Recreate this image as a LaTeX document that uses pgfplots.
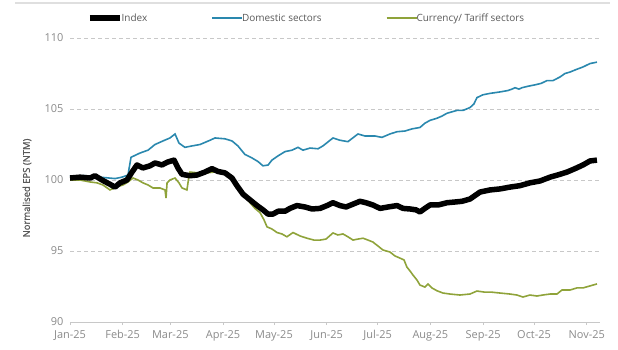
\documentclass[border=0pt]{standalone}
\usepackage{pgfplots}
\pgfplotsset{compat=1.18}
\usepackage{fontspec}
\setmainfont{Open Sans}
\newfontfamily\semib{Open Sans}[FakeBold=1.2]
\definecolor{domblue}{HTML}{2A88AE}
\definecolor{curgreen}{HTML}{8FA33A}
\definecolor{txtgray}{HTML}{595959}
\definecolor{tickgray}{HTML}{8A8A8A}
\definecolor{gridgray}{HTML}{C8C8C8}
\begin{document}
\begin{tikzpicture}
\useasboundingbox (0,0) rectangle (618bp,350bp);
\draw[line width=2bp, color=gray!25] (15bp,347bp) -- (610bp,347bp);
\begin{axis}[
  at={(70bp,28bp)}, anchor=south west,
  scale only axis, width=530bp, height=284bp,
  xmin=0, xmax=311.8, ymin=90, ymax=110,
  axis x line*=bottom, axis y line*=left,
  x axis line style={color=gridgray, line width=0.8bp},
  y axis line style={draw=none},
  xtick={0,31,59,90,120,151,181,212,243,273,304},
  xticklabels={Jan-25,Feb-25,Mar-25,Apr-25,May-25,Jun-25,Jul-25,Aug-25,Sep-25,Oct-25,Nov-25},
  xtick style={color=gridgray, line width=0.8bp},
  ytick style={draw=none},
  x tick label style={yshift=-2bp},
  tick align=outside, major tick length=3bp,
  ytick={90,95,100,105,110},
  ymajorgrids, grid style={color=gridgray, line width=0.8bp, dash pattern=on 4bp off 3bp},
  every tick label/.append style={font=\fontsize{11}{13}\selectfont, color=tickgray},
  /pgf/number format/assume math mode=true,
  clip=false,
  legend columns=3,
  legend style={draw=none, fill=none, at={(axis description cs:0.032,1.07)}, anchor=west,
    font=\fontsize{10}{12}\selectfont, text=txtgray, inner sep=0pt,
    /tikz/every even column/.append style={column sep=62bp}},
  legend image code/.code={\draw[#1] (0bp,0bp) -- (30bp,0bp);},
  legend cell align=left,
]
\addlegendimage{black, line width=5.5bp}
\addlegendentry{\hspace{-3bp}Index}
\addlegendimage{domblue, line width=1.8bp}
\addlegendentry{\hspace{-3bp}Domestic sectors}
\addlegendimage{curgreen, line width=1.8bp}
\addlegendentry{\hspace{-3bp}Currency/ Tariff sectors}

% Domestic sectors
\addplot[domblue, line width=1.6bp, forget plot] coordinates {
(0,100.28)(8.8,100.3)(17.6,100.2)(26.5,100.1)(30.6,100.2)(34.1,100.35)(35.9,101.6)
(41.2,101.9)(45.9,102.1)(50,102.5)(54.7,102.75)(58.8,102.96)(61.8,103.24)(64.1,102.6)
(67.6,102.3)(71.8,102.4)(76.5,102.5)(82.4,102.8)(85.3,102.96)(91.2,102.9)(95.3,102.75)
(98.8,102.4)(102.9,101.8)(107.1,101.55)(110.6,101.3)(113.5,101.0)(116.5,101.05)(118.8,101.4)
(122.4,101.7)(126.5,102.0)(130.6,102.1)(134.1,102.3)(137.1,102.1)(141.2,102.25)(145.9,102.2)
(148.8,102.4)(154.7,102.96)(158.8,102.8)(163.5,102.7)(169.4,103.24)(173.5,103.1)(179.4,103.1)
(183.5,103.0)(188.2,103.24)(192.4,103.4)(197.1,103.45)(201.2,103.6)(205.9,103.7)(208.8,104.0)
(211.8,104.2)(215.9,104.35)(218.8,104.5)(221.8,104.7)(227.6,104.9)(231.2,104.9)(235.3,105.1)
(237.6,105.35)(239.4,105.8)(242.9,106.0)(247.1,106.1)(252.9,106.2)(257.6,106.3)(260,106.4)
(261.8,106.5)(264.1,106.4)(265.9,106.5)(269.4,106.6)(273.5,106.7)(277.1,106.8)(280.6,107.0)
(284.1,107.0)(288.2,107.25)(291.2,107.5)(294.1,107.6)(298.2,107.8)(301.8,107.96)(305.9,108.2)
(310,108.3)
};

% Currency / Tariff sectors
\addplot[curgreen, line width=1.6bp, forget plot] coordinates {
(0,100.0)(5.9,100.0)(11.8,99.86)(15.9,99.8)(19.4,99.65)(23.5,99.3)(27.1,99.5)(31.2,99.65)
(34.1,99.86)(37.1,100.14)(40,100.0)(42.9,99.8)(45.9,99.65)(48.8,99.44)(52.9,99.44)(55.9,99.3)
(56.5,98.73)(57.1,99.8)(58.8,100.0)(61.8,100.14)(64.1,99.8)(65.9,99.44)(68.8,99.3)(70,100.28)
(70.6,100.56)(75.3,100.5)(80.6,100.5)(84.7,100.56)(88.2,100.56)(92.4,100.35)(95.9,100.0)
(100,99.3)(102.9,98.87)(105.9,98.4)(108.8,98.0)(111.8,97.7)(114.1,97.2)(115.9,96.7)
(118.8,96.55)(121.8,96.3)(124.7,96.2)(127.6,96.0)(131.2,96.3)(135.3,96.06)(139.4,95.9)
(143.5,95.77)(147.1,95.77)(150.6,95.84)(154.7,96.27)(157.6,96.13)(160.6,96.2)(163.5,96.0)
(166.5,95.77)(169.4,95.84)(172.4,95.9)(175.3,95.77)(178.2,95.63)(181.2,95.35)(184.1,95.07)
(188.2,94.93)(191.2,94.65)(194.1,94.5)(196.5,94.37)(198.2,93.87)(200,93.6)(201.8,93.3)
(204.1,92.96)(205.9,92.6)(208.8,92.46)(210.6,92.68)(212.9,92.4)(215.9,92.2)(219.4,92.04)
(223.5,91.97)(229.4,91.9)(235.3,91.97)(239.4,92.18)(244.1,92.1)(248.2,92.1)(252.9,92.04)
(258.8,91.97)(262.9,91.9)(266.5,91.76)(270.6,91.9)(274.7,91.83)(278.2,91.9)(282.4,91.97)
(286.5,91.97)(289.4,92.25)(294.1,92.25)(298.2,92.4)(301.8,92.4)(305.9,92.54)(310,92.68)
};

% Index
\addplot[black, line width=5.5bp, line join=round, forget plot] coordinates {
(0,100.14)(5.9,100.2)(11.8,100.14)(14.7,100.3)(18.8,100.0)(23.5,99.7)(26.5,99.5)(29.4,99.8)
(33.5,100.0)(36.5,100.56)(39.4,101.06)(42.9,100.85)(47.1,101.0)(50,101.2)(54.1,101.06)
(57.6,101.27)(61.2,101.4)(63.5,100.85)(65.9,100.4)(70.6,100.3)(74.7,100.35)(79.4,100.56)
(83.5,100.8)(87.1,100.6)(91.2,100.5)(95.3,100.14)(98.2,99.6)(101.8,99.0)(105.9,98.6)
(110,98.2)(113.5,97.9)(116.5,97.6)(119.4,97.6)(122.4,97.8)(126.5,97.8)(129.4,98.0)
(133.5,98.2)(138.2,98.1)(142.4,97.96)(147.1,98.0)(151.2,98.2)(154.7,98.4)(158.8,98.2)
(162.4,98.1)(166.5,98.3)(170.6,98.5)(174.1,98.4)(178.2,98.24)(182.4,98.0)(187.1,98.1)
(192.4,98.2)(195.9,98.0)(200,97.96)(203.5,97.9)(205.9,97.75)(208.8,98.0)(211.8,98.24)
(216.5,98.24)(221.8,98.4)(226.5,98.45)(230.6,98.5)(235.3,98.66)(238.2,98.9)(241.2,99.15)
(247.1,99.3)(252.9,99.37)(258.8,99.5)(264.7,99.6)(270.6,99.8)(276.5,99.93)(282.4,100.2)
(288.2,100.4)(292.4,100.56)(297.1,100.8)(301.8,101.06)(305.9,101.34)(310,101.4)
};
\end{axis}
\node[rotate=90, font=\semib\fontsize{9.5}{11}\selectfont, text=txtgray, anchor=center] at (27bp,162bp) {Normalised EPS (NTM)};
\end{tikzpicture}
\end{document}
